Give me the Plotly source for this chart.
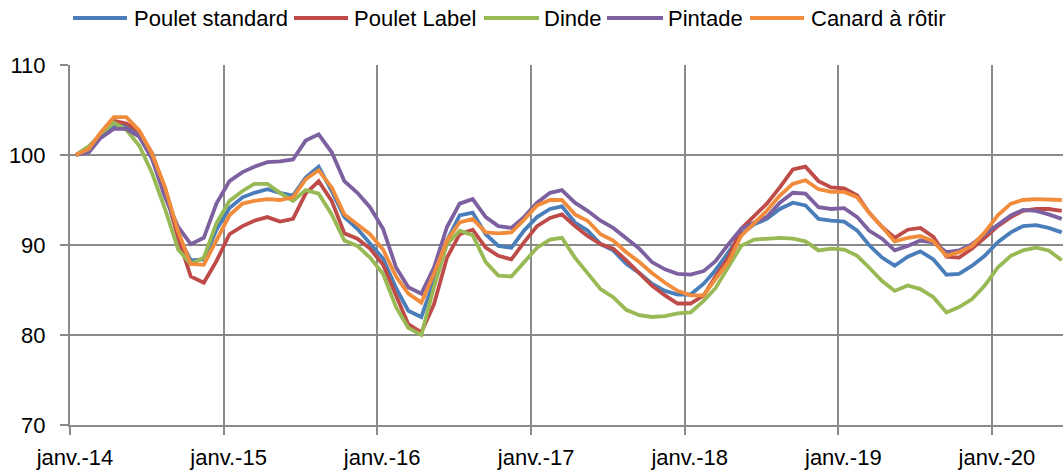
import pandas as pd
import plotly.graph_objects as go

# ---- data ----
months = pd.date_range("2014-01-01", periods=78, freq="MS") + pd.Timedelta(days=14)

series_names = ["Poulet standard", "Poulet Label", "Dinde", "Pintade", "Canard à rôtir"]

poulet_standard = [
    100, 100.9, 102.2, 103.3, 103.2, 102.1, 99.6, 95.8, 91.0, 88.3, 88.4, 91.7,
    94.1, 95.3, 95.8, 96.2, 95.8, 95.5, 97.5, 98.7, 96.0, 93.1, 91.8, 90.1,
    88.5, 85.2, 82.7, 82.0, 86.0, 90.5, 93.3, 93.6, 91.2, 89.9, 89.7, 91.6,
    93.1, 94.0, 94.3, 92.5, 91.6, 90.1, 89.4, 87.9, 86.9, 85.7, 84.9, 84.5,
    84.5, 85.7, 87.2, 89.2, 91.2, 92.3, 92.9, 94.0, 94.7, 94.4, 92.9, 92.7,
    92.6, 91.6, 90.0, 88.6, 87.7, 88.7, 89.3, 88.4, 86.7, 86.8, 87.7, 88.8,
    90.3, 91.4, 92.1, 92.2, 91.9, 91.4,
]
poulet_label = [
    100, 100.7, 102.3, 103.8, 103.5, 102.6, 100.2, 96.2, 90.8, 86.5, 85.8, 88.2,
    91.2, 92.1, 92.7, 93.1, 92.6, 92.9, 95.7, 97.1, 94.9, 91.3, 90.7, 89.6,
    87.8, 84.5, 81.2, 80.3, 83.4, 88.6, 91.2, 91.7, 89.7, 88.8, 88.4, 90.3,
    92.1, 93.0, 93.4, 92.1, 91.0, 90.1, 89.6, 88.3, 86.9, 85.5, 84.4, 83.5,
    83.5, 84.4, 86.5, 88.6, 91.8, 93.3, 94.6, 96.4, 98.4, 98.7, 97.1, 96.4,
    96.3, 95.5, 93.6, 92.0, 90.8, 91.7, 91.9, 90.9, 88.7, 88.6, 89.6, 90.8,
    92.1, 93.1, 93.8, 94.0, 94.0, 93.8,
]
dinde = [
    100, 101.0, 102.3, 103.6, 102.8, 101.0, 98.0, 94.0, 89.5, 87.9, 88.6, 92.4,
    94.9, 96.0, 96.8, 96.8, 95.8, 94.9, 96.1, 95.7, 93.4, 90.5, 89.9, 88.6,
    86.8, 83.1, 80.8, 80.0, 85.3, 90.1, 91.6, 91.1, 88.1, 86.6, 86.5, 88.1,
    89.7, 90.6, 90.8, 88.6, 86.8, 85.1, 84.2, 82.8, 82.2, 82.0, 82.1, 82.4,
    82.5, 83.8, 85.2, 87.5, 89.9, 90.6, 90.7, 90.8, 90.7, 90.4, 89.4, 89.6,
    89.5, 88.8, 87.5, 86.0, 84.9, 85.5, 85.1, 84.2, 82.5, 83.1, 84.0, 85.5,
    87.5, 88.8, 89.4, 89.7, 89.4, 88.3,
]
pintade = [
    100, 100.3, 101.9, 102.9, 102.9, 102.0, 99.6, 95.3, 92.0, 90.1, 90.8, 94.6,
    97.1, 98.1, 98.7, 99.2, 99.3, 99.5, 101.6, 102.3, 100.3, 97.1, 95.8, 94.2,
    91.8, 87.5, 85.3, 84.6, 87.5, 92.0, 94.6, 95.1, 93.1, 92.1, 91.9, 93.1,
    94.7, 95.8, 96.1, 94.7, 93.8, 92.7, 91.9, 90.7, 89.6, 88.1, 87.3, 86.8,
    86.7, 87.1, 88.2, 90.1, 91.8, 92.5, 93.1, 94.7, 95.8, 95.7, 94.2, 94.0,
    94.1, 93.1, 91.6, 90.7, 89.4, 89.9, 90.5, 90.3, 89.2, 89.4, 90.1, 91.2,
    92.3, 93.3, 93.9, 93.8, 93.4, 92.9,
]
canard = [
    100, 100.7, 102.5, 104.2, 104.2, 102.7, 100.1, 96.4, 91.5, 87.9, 87.8, 90.5,
    93.3, 94.6, 94.9, 95.1, 95.0, 95.3, 97.3, 98.3, 96.4, 93.4, 92.3, 91.2,
    89.5, 86.5, 84.6, 83.6, 86.8, 90.5, 92.5, 92.9, 91.4, 91.3, 91.4, 92.8,
    94.4, 95.0, 95.0, 93.4, 92.7, 91.2, 90.5, 89.2, 88.1, 86.9, 85.8, 84.9,
    84.4, 84.4, 86.2, 88.1, 91.0, 92.5, 93.8, 95.5, 96.8, 97.2, 96.2, 95.9,
    95.9, 95.3, 93.6, 92.0, 90.4, 90.8, 91.0, 90.4, 88.8, 89.2, 89.9, 91.4,
    93.3, 94.6, 95.0, 95.1, 95.1, 95.0,
]

year_ticks = ["2014-01-01", "2015-01-01", "2016-01-01", "2017-01-01",
              "2018-01-01", "2019-01-01", "2020-01-01"]
year_labels = ["janv.-14", "janv.-15", "janv.-16", "janv.-17",
               "janv.-18", "janv.-19", "janv.-20"]
y_ticks = [70, 80, 90, 100, 110]

colors = ["#4A7EBB", "#BE4B48", "#98B954", "#7D60A0", "#F08C3C"]
all_series = [poulet_standard, poulet_label, dinde, pintade, canard]

FONT = "Liberation Sans, Arial, sans-serif"
FS = 22
GRID = "#8a8a8a"

W, H = 1063, 475
ML, MR, MT, MB = 70, 0, 65, 50
PW, PH = W - ML - MR, H - MT - MB

fig = go.Figure()
for name, vals, col in zip(series_names, all_series, colors):
    fig.add_trace(go.Scatter(x=months, y=vals, name=name, mode="lines",
                             line=dict(color=col, width=3.8)))

# manual legend (long line samples like the original)
legend_pos = [(73, 127, 132), (294, 348, 352), (484, 539, 542),
              (607, 663, 666), (750, 804, 809)]
ly = 18
shapes, annotations = [], []
for (x0, x1, tx), name, col in zip(legend_pos, series_names, colors):
    shapes.append(dict(type="line", xref="paper", yref="paper",
                       x0=(x0 - ML) / PW, x1=(x1 - ML) / PW,
                       y0=(H - MB - ly) / PH, y1=(H - MB - ly) / PH,
                       line=dict(color=col, width=3.8)))
    annotations.append(dict(xref="paper", yref="paper", x=(tx - ML) / PW,
                            y=(H - MB - ly) / PH, xanchor="left", yanchor="middle",
                            text=name, showarrow=False,
                            font=dict(family=FONT, size=FS, color="black")))

fig.update_layout(
    width=W, height=H,
    margin=dict(l=ML, r=MR, t=MT, b=MB),
    paper_bgcolor="white", plot_bgcolor="white",
    showlegend=False,
    shapes=shapes, annotations=annotations,
    font=dict(family=FONT, size=FS, color="black"),
)
fig.update_xaxes(
    type="date", range=["2014-01-01", "2020-06-18"],
    tickmode="array", tickvals=year_ticks, ticktext=year_labels,
    ticklabelshift=5, ticklabelstandoff=4,
    showgrid=True, gridcolor=GRID, gridwidth=2,
    showline=True, linecolor=GRID, linewidth=2,
    ticks="outside", ticklen=8, tickcolor=GRID, tickwidth=2,
    tickfont=dict(family=FONT, size=FS, color="black"),
    zeroline=False,
)
fig.update_yaxes(
    range=[70, 110], tickmode="array", tickvals=y_ticks,
    ticklabelstandoff=10,
    showgrid=True, gridcolor=GRID, gridwidth=2,
    showline=True, linecolor=GRID, linewidth=2,
    ticks="outside", ticklen=8, tickcolor=GRID, tickwidth=2,
    tickfont=dict(family=FONT, size=FS, color="black"),
    zeroline=False,
)

fig.write_html(
    "out.html",
    config={"displayModeBar": False},
    post_script="document.body.style.margin='0';document.body.style.overflow='hidden';",
)
